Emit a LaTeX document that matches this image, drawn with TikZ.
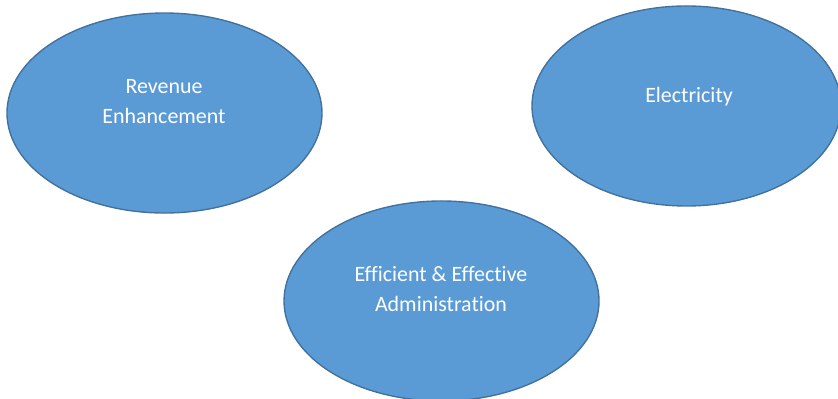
\documentclass[tikz,border=0pt]{standalone}
\usepackage{fontspec}
\setmainfont[Ligatures=NoCommon]{Carlito}
\usetikzlibrary{shapes.geometric}

\definecolor{blobfill}{HTML}{5B9BD5}
\definecolor{blobline}{HTML}{41719C}

\tikzset{
  blob/.style={ellipse, draw=blobline, fill=blobfill, line width=1.3pt, inner sep=0pt},
  blobtext/.style={text=white, align=center, font=\fontsize{20.8}{28.5}\selectfont}
}

\begin{document}
\begin{tikzpicture}
  \useasboundingbox (0,0) rectangle (27.933,-13.267);
  \node[blob, minimum width=10.5cm, minimum height=6.667cm] (rev) at (5.483,-3.767) {};
  \node[blobtext] (revtext) at (5.467,-3.4) {Revenue\\Enhancement};
  \node[blob, minimum width=10.3cm, minimum height=6.667cm] (elec) at (22.883,-3.533) {};
  \node[blobtext] (electext) at (22.967,-3.233) {Electricity};
  \node[blob, minimum width=10.5cm, minimum height=6.667cm] (admin) at (14.717,-10.033) {};
  \node[blobtext] (admintext) at (14.7,-9.633) {Efficient \& Effective\\Administration};
\end{tikzpicture}
\end{document}
